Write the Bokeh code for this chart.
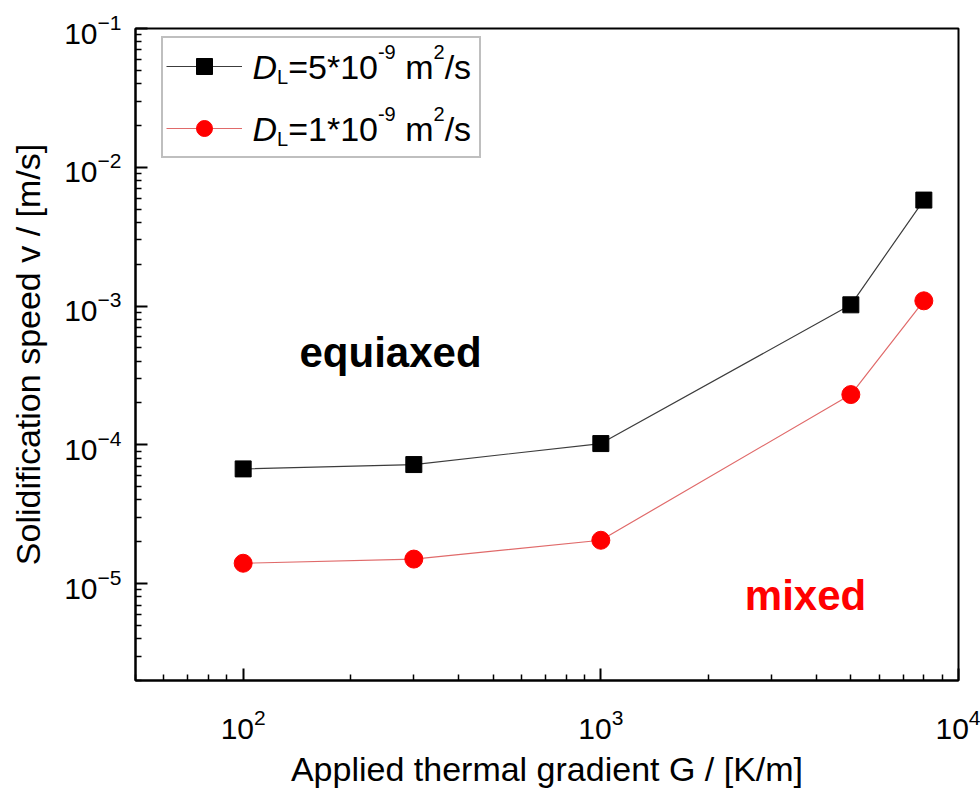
from bokeh.plotting import figure
from bokeh.models import Label, Legend, LegendItem, FixedTicker, LogTickFormatter
from bokeh.embed import file_html
from bokeh.resources import INLINE

# Applied thermal gradient G [K/m]
G = [100, 300, 1000, 5000, 8000]
# Solidification speed v [m/s] for two liquid diffusivities
v_D5 = [6.7e-5, 7.2e-5, 1.02e-4, 1.02e-3, 5.8e-3]
v_D1 = [1.4e-5, 1.5e-5, 2.05e-5, 2.3e-4, 1.09e-3]

x_major = [1e2, 1e3, 1e4]
y_major = [1e-6, 1e-5, 1e-4, 1e-3, 1e-2, 1e-1]

FONT = "Liberation Sans"

# Arial / Liberation Sans advance widths (per 1000 em) used to lay out mixed-style text runs
W = {' ': 278, 'D': 722, 'L': 556, '=': 584, '5': 556, '*': 389, '1': 556, '0': 556,
     '-': 333, 'm': 833, 's': 500, '2': 556, '9': 556, '/': 278}


def tw(s, size):
    return sum(W.get(c, 556) for c in s) / 1000.0 * size


def add_runs(p, x0, y0, runs):
    """Place a sequence of (text, size, dy, style) runs on one baseline (frame screen px)."""
    x = x0
    for t, s, dy, st in runs:
        lead = len(t) - len(t.lstrip())
        p.add_layout(Label(x=x + tw(t[:lead], s), y=y0 + dy, x_units="screen", y_units="screen",
                           text=t.strip(), text_font=FONT, text_font_size=f"{s}px",
                           text_font_style=st, text_baseline="alphabetic", text_align="left",
                           text_color="black", level="overlay"))
        x += tw(t, s)


p = figure(width=980, height=793, x_axis_type="log", y_axis_type="log",
           x_range=(50, 1e4), y_range=(2e-6, 1e-1),
           output_backend="svg", toolbar_location=None,
           min_border_left=135, min_border_right=22, min_border_top=28, min_border_bottom=113)

p.xgrid.visible = False
p.ygrid.visible = False
p.outline_line_color = "black"
p.outline_line_width = 2
p.outline_line_alpha = 1
p.background_fill_color = "white"
p.border_fill_color = "white"


def minors(majors):
    out = []
    for m in majors:
        out += [k * m / 10 for k in range(2, 10)]
    return out


p.xaxis.ticker = FixedTicker(ticks=x_major, minor_ticks=minors(x_major + [1e5]))
p.yaxis.ticker = FixedTicker(ticks=y_major, minor_ticks=minors(y_major + [1.0]))
p.xaxis.formatter = LogTickFormatter()
p.yaxis.formatter = LogTickFormatter()

for ax in (p.xaxis, p.yaxis):
    ax.axis_line_width = 2
    ax.axis_line_color = "black"
    ax.major_tick_in = 12
    ax.major_tick_out = 0
    ax.minor_tick_in = 6
    ax.minor_tick_out = 0
    ax.major_tick_line_width = 2
    ax.minor_tick_line_width = 1.5
    ax.major_tick_line_color = "black"
    ax.minor_tick_line_color = "black"
    ax.major_label_text_font = FONT
    ax.major_label_text_font_size = "30px"
    ax.major_label_text_color = "black"
    ax.axis_label_text_font = FONT
    ax.axis_label_text_font_style = "normal"
    ax.axis_label_text_color = "black"

p.xaxis.major_label_standoff = 28
p.yaxis.major_label_standoff = 14

p.xaxis.axis_label = "Applied thermal gradient G / [K/m]"
p.xaxis.axis_label_text_font_size = "34px"
p.xaxis.axis_label_standoff = 8

p.yaxis.axis_label = "Solidification speed v / [m/s]"
p.yaxis.axis_label_text_font_size = "34px"
p.yaxis.axis_label_standoff = 14

# series
l5 = p.line(G, v_D5, line_color="#3c3c3c", line_width=1.2)
s5 = p.scatter(G, v_D5, marker="square", size=16, fill_color="black", line_color="black")
l1 = p.line(G, v_D1, line_color="#e06a6a", line_width=1.2)
s1 = p.scatter(G, v_D1, marker="circle", size=18, fill_color="red", line_color="red")

legend = Legend(items=[LegendItem(label=" ", renderers=[l5, s5]),
                       LegendItem(label=" ", renderers=[l1, s1])],
                location=(26, 522), orientation="vertical",
                glyph_width=76, glyph_height=40, label_width=222, label_height=50,
                label_standoff=12, padding=3, spacing=12, margin=0,
                border_line_color="#808080", border_line_width=2,
                background_fill_color="white", background_fill_alpha=0)
p.add_layout(legend, "center")

# legend texts with italic D, subscript L and superscripts
for base, txt in ((614, "=5*10"), (552, "=1*10")):
    add_runs(p, 117, base, [("D", 34, 0, "italic"), ("L", 20, -10, "normal"),
                            (txt, 34, 0, "normal"), ("-9", 20, 15, "normal"),
                            (" m", 34, 0, "normal"), ("2", 20, 15, "normal"),
                            ("/s", 34, 0, "normal")])

# regime labels
p.add_layout(Label(x=255, y=328, x_units="screen", y_units="screen", text="equiaxed",
                   text_font=FONT, text_font_size="42px", text_font_style="bold",
                   text_align="center", text_baseline="middle", text_color="black"))
p.add_layout(Label(x=670, y=85, x_units="screen", y_units="screen", text="mixed",
                   text_font=FONT, text_font_size="42px", text_font_style="bold",
                   text_align="center", text_baseline="middle", text_color="red"))

open("out.html", "w").write(file_html(p, INLINE))
